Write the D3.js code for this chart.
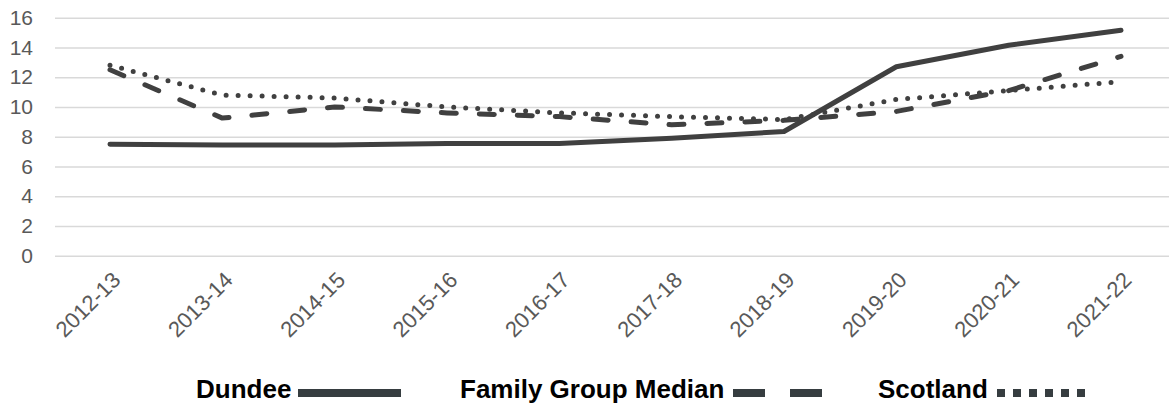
<!DOCTYPE html>
<html>
<head>
<meta charset="utf-8">
<script src="https://cdnjs.cloudflare.com/ajax/libs/d3/7.8.5/d3.min.js"></script>
<style>
  body { margin: 0; background: #fff; }
  svg { display: block; font-family: "Liberation Sans", Arial, sans-serif; }
</style>
</head>
<body>
<svg width="1169" height="406"></svg>
<script>
var WIDTH = 1169;
var HEIGHT = 406;

// data
var years = ['2012-13', '2013-14', '2014-15', '2015-16', '2016-17', '2017-18', '2018-19', '2019-20', '2020-21', '2021-22'];
var dundee = [7.5, 7.45, 7.45, 7.55, 7.55, 7.9, 8.35, 12.7, 14.15, 15.15];
var familyMedian = [12.5, 9.25, 10.0, 9.6, 9.35, 8.8, 9.1, 9.7, 11.1, 13.4];
var scotland = [12.8, 10.8, 10.6, 10.0, 9.6, 9.35, 9.15, 10.5, 11.1, 11.7];
var yTicks = [0, 2, 4, 6, 8, 10, 12, 14, 16];

var series = [
    { name: 'Dundee', values: dundee, dash: null },
    { name: 'Family Group Median', values: familyMedian, dash: '15,23' },
    { name: 'Scotland', values: scotland, dash: '0,12' }
];

var svg = d3.select('svg')
    .attr('width', WIDTH)
    .attr('height', HEIGHT);

var x = d3.scalePoint()
    .domain(years)
    .range([110, 1121]);

var y = d3.scaleLinear()
    .domain([0, 16])
    .range([255.7, 17.7]);

// gridlines + y labels
var yAxis = d3.axisLeft(y)
    .tickValues(yTicks)
    .tickSize(-(WIDTH - 55))
    .tickPadding(22);

svg.append('g')
    .attr('transform', 'translate(55,0)')
    .call(yAxis)
    .call(function(g) {
        g.select('.domain').remove();
        g.selectAll('.tick line').attr('stroke', '#d9d9d9').attr('stroke-width', 1.5);
        g.selectAll('.tick text')
            .attr('fill', '#595959')
            .attr('font-size', 21)
            .attr('font-family', '"Liberation Sans", Arial, sans-serif');
    });

// x labels, rotated
var xAxis = d3.axisBottom(x).tickSize(0).tickPadding(0);
svg.append('g')
    .attr('transform', 'translate(0,276)')
    .call(xAxis)
    .call(function(g) {
        g.select('.domain').remove();
        g.selectAll('.tick text')
            .attr('fill', '#595959')
            .attr('font-size', 22)
            .attr('font-family', '"Liberation Sans", Arial, sans-serif')
            .attr('text-anchor', 'end')
            .attr('y', 0)
            .attr('dy', '0.35em')
            .attr('transform', 'translate(6,0) rotate(-45)');
    });

var line = d3.line()
    .x(function(d, i) { return x(years[i]); })
    .y(function(d) { return y(d); });

svg.append('g').selectAll('path')
    .data(series)
    .enter()
    .append('path')
    .attr('d', function(d) { return line(d.values); })
    .attr('fill', 'none')
    .attr('stroke', '#404040')
    .attr('stroke-width', 5)
    .attr('stroke-linecap', 'round')
    .attr('stroke-linejoin', 'round')
    .attr('stroke-dasharray', function(d) { return d.dash; });

// legend
var legend = svg.append('g')
    .attr('font-size', 26)
    .attr('font-weight', 'bold')
    .attr('fill', '#000');

legend.append('text').attr('x', 196).attr('y', 398).text('Dundee');
legend.append('rect').attr('x', 298).attr('y', 389).attr('width', 103).attr('height', 8).attr('fill', '#363d40');

legend.append('text').attr('x', 460).attr('y', 398).text('Family Group Median');
[733, 790].forEach(function(px) {
    legend.append('rect').attr('x', px).attr('y', 389).attr('width', 32).attr('height', 8).attr('fill', '#363d40');
});

legend.append('text').attr('x', 878).attr('y', 398).text('Scotland');
d3.range(6).forEach(function(i) {
    legend.append('rect').attr('x', 997 + i * 16).attr('y', 389).attr('width', 8).attr('height', 8).attr('fill', '#363d40');
});
</script>
</body>
</html>
